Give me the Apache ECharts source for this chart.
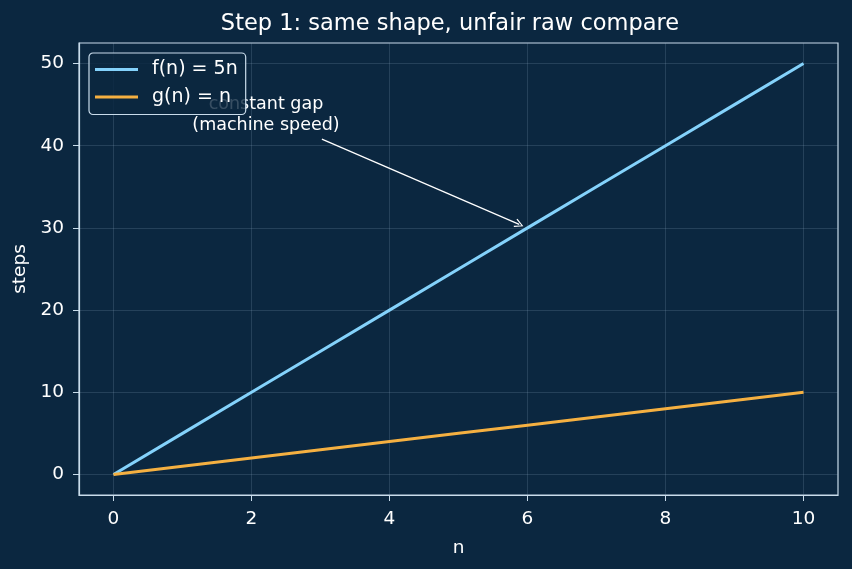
<!DOCTYPE html>
<html>
<head>
<meta charset="utf-8">
<script src="https://cdn.jsdelivr.net/npm/echarts@6/dist/echarts.min.js"></script>
<style>
  html, body { margin: 0; padding: 0; background: #0b2740; }
  #chart { width: 852px; height: 569px; }
</style>
</head>
<body>
<div id="chart"></div>
<script>
const nValues = [0, 1, 2, 3, 4, 5, 6, 7, 8, 9, 10];
const fValues = [0, 5, 10, 15, 20, 25, 30, 35, 40, 45, 50];
const gValues = [0, 1, 2, 3, 4, 5, 6, 7, 8, 9, 10];
const xTicks = [0, 2, 4, 6, 8, 10];
const yTicks = [0, 10, 20, 30, 40, 50];
// annotation: arrow from text towards point (6, 30)
const arrowFrom = [3.02, 40.8];
const arrowTo = [5.88, 30.42];
const notePos = [2.21, 43.7];
const noteText = "constant gap\n(machine speed)";

const fg = "#ffffff";
const spine = "#c9dceb";
const gridColor = "rgba(160,190,215,0.22)";
const font = "DejaVu Sans";

const chart = echarts.init(document.getElementById("chart"));
chart.setOption({
  backgroundColor: "#0b2740",
  animation: false,
  textStyle: { fontFamily: font },
  title: {
    text: "Step 1: same shape, unfair raw compare",
    left: 445, top: 8, textAlign: "center",
    textStyle: { color: fg, fontSize: 22.5, fontWeight: "normal", fontFamily: font }
  },
  grid: {
    left: 79, right: 14, top: 43, bottom: 74,
    show: true, borderColor: spine, borderWidth: 1.2
  },
  legend: {
    data: ["f(n) = 5n", "g(n) = n"],
    orient: "vertical",
    left: 89, top: 53,
    padding: [7, 8, 8, 6],
    itemGap: 8.5,
    itemWidth: 43, itemHeight: 3,
    icon: "rect",
    backgroundColor: "rgba(11,39,64,0.82)",
    borderColor: spine, borderWidth: 1.2, borderRadius: 4,
    textStyle: { color: fg, fontSize: 19, lineHeight: 19, fontFamily: font, padding: [0, 0, 0, 9] }
  },
  xAxis: {
    type: "value", min: -0.5, max: 10.5,
    name: "n", nameLocation: "middle", nameGap: 44,
    nameTextStyle: { color: fg, fontSize: 18.5, fontFamily: font },
    axisLine: { show: true, onZero: false, lineStyle: { color: spine, width: 1.2 } },
    axisTick: { show: true, customValues: xTicks, length: 6, lineStyle: { color: spine } },
    axisLabel: { customValues: xTicks, color: fg, fontSize: 18.5, margin: 15, fontFamily: font },
    splitLine: { show: true, lineStyle: { color: gridColor, width: 0.8 } }
  },
  yAxis: {
    type: "value", min: -2.5, max: 52.5,
    name: "steps", nameLocation: "middle", nameGap: 43,
    nameTextStyle: { color: fg, fontSize: 18.5, fontFamily: font },
    axisLine: { show: true, onZero: false, lineStyle: { color: spine, width: 1.2 } },
    axisTick: { show: true, customValues: yTicks, length: 6, lineStyle: { color: spine } },
    axisLabel: { customValues: yTicks, color: fg, fontSize: 18.5, margin: 15, fontFamily: font },
    splitLine: { show: true, lineStyle: { color: gridColor, width: 0.8 } }
  },
  series: [
    {
      name: "f(n) = 5n", type: "line",
      data: nValues.map((n, i) => [n, fValues[i]]),
      showSymbol: false, itemStyle: { color: "#84d2fb" },
      lineStyle: { color: "#84d2fb", width: 3 },
      markLine: {
        silent: true,
        symbol: ["none", "path://M0,10 L5,0 L10,10 L8.8,10.8 L5,2.4 L1.2,10.8 Z"],
        symbolSize: 9,
        label: { show: false },
        itemStyle: { color: "#ffffff" },
        lineStyle: { color: "#ffffff", width: 1.3, type: "solid" },
        data: [[{ coord: arrowFrom }, { coord: arrowTo }]]
      }
    },
    {
      name: "g(n) = n", type: "line",
      data: nValues.map((n, i) => [n, gValues[i]]),
      showSymbol: false, itemStyle: { color: "#f5b041" },
      lineStyle: { color: "#f5b041", width: 3 }
    },
    {
      name: "note", type: "scatter", symbolSize: 0,
      data: [notePos],
      itemStyle: { opacity: 1 },
      label: {
        show: true, position: "inside", formatter: noteText, opacity: 1,
        color: fg, fontSize: 17.5, lineHeight: 21, align: "center", fontFamily: font
      }
    }
  ]
});
</script>
</body>
</html>
